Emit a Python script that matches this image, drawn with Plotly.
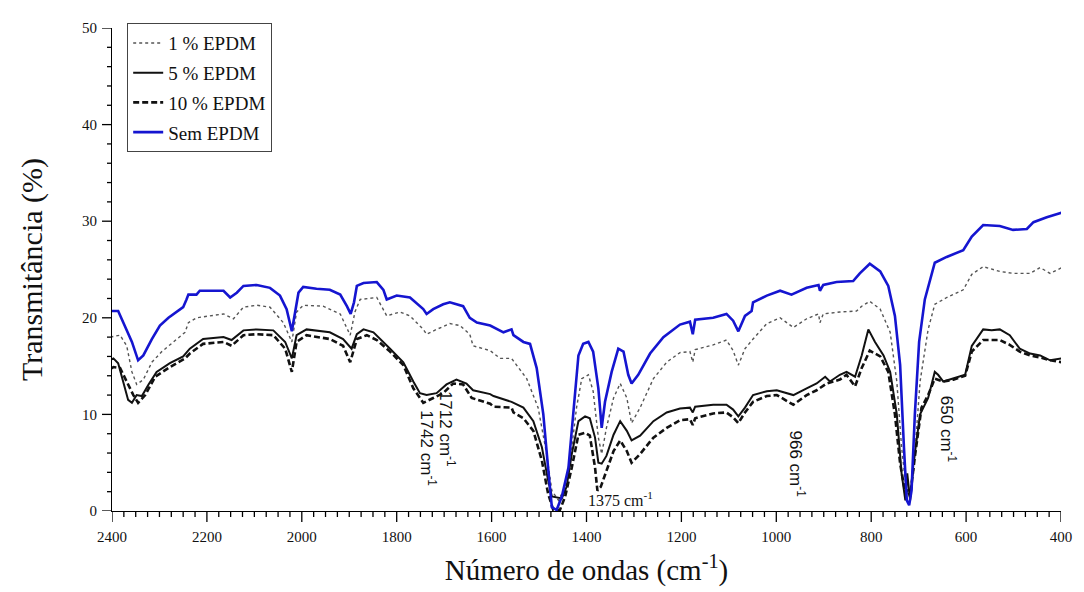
import plotly.graph_objects as go

# ---------------- data ----------------
x_sem = [2418, 2404, 2387, 2376, 2358, 2345, 2334, 2316, 2299, 2281, 2260, 2250, 2243, 2239, 2222, 2215,
         2165, 2151, 2137, 2123, 2095, 2067, 2046, 2032, 2021, 2014, 2007, 1997, 1969, 1941, 1919, 1905,
         1897, 1890, 1884, 1870, 1842, 1828, 1821, 1800, 1772, 1744, 1737, 1723, 1702, 1688, 1674, 1660,
         1646, 1631, 1603, 1575, 1558, 1554, 1533, 1519, 1505, 1491, 1481, 1473, 1463, 1452, 1438, 1428,
         1417, 1407, 1396, 1386, 1375, 1368, 1361, 1347, 1333, 1322, 1312, 1305, 1291, 1266, 1238, 1203,
         1182, 1176, 1171, 1133, 1105, 1091, 1080, 1066, 1052, 1049, 1020, 992, 968, 936, 911, 908, 901,
         873, 838, 824, 803, 781, 764, 750, 739, 731, 725, 720, 715, 708, 699, 687, 669, 666, 641, 606,
         588, 564, 529, 501, 472, 458, 430, 416, 398]
y_sem = [19.9, 20.7, 20.7, 19.5, 17.5, 15.6, 16.1, 17.8, 19.2, 20.0, 20.7, 21.1, 21.9, 22.4, 22.4, 22.8,
         22.8, 22.1, 22.6, 23.3, 23.4, 23.1, 22.3, 20.9, 18.6, 20.6, 22.6, 23.2, 23.0, 22.9, 22.4, 21.2,
         20.4, 21.6, 23.3, 23.6, 23.7, 22.9, 21.9, 22.3, 22.1, 20.9, 20.4, 20.9, 21.4, 21.6, 21.4, 21.2,
         20.0, 19.5, 19.2, 18.5, 18.8, 18.2, 17.5, 17.3, 14.8, 10.0, 4.5, 0.4, 0.1, 1.5, 4.5, 10.0,
         16.1, 17.3, 17.5, 16.5, 12.7, 8.6, 11.3, 14.4, 16.8, 16.5, 14.1, 13.2, 14.1, 16.3, 18.0, 19.3,
         19.6, 18.3, 19.8, 20.0, 20.4, 19.7, 18.6, 20.2, 20.7, 21.6, 22.3, 22.8, 22.4, 23.1, 23.4, 22.8, 23.4,
         23.7, 23.8, 24.6, 25.6, 24.8, 23.3, 20.2, 15.1, 6.6, 1.1, 0.6, 2.1, 10.0, 17.5, 21.9, 25.0, 25.7, 26.3, 27.0,
         28.4, 29.6, 29.5, 29.1, 29.2, 29.9, 30.4, 30.6, 30.9]

x_1 = [2418, 2404, 2383, 2369, 2358, 2348, 2334, 2316, 2295, 2271, 2246, 2239, 2222, 2165, 2144, 2123,
       2095, 2067, 2039, 2021, 2011, 1997, 1955, 1919, 1898, 1888, 1877, 1842, 1828, 1821, 1793, 1772,
       1744, 1737, 1716, 1688, 1667, 1646, 1639, 1603, 1582, 1558, 1526, 1502, 1484, 1473, 1459, 1445,
       1431, 1421, 1410, 1396, 1386, 1375, 1368, 1358, 1343, 1329, 1315, 1305, 1287, 1259, 1231, 1203,
       1182, 1176, 1171, 1133, 1105, 1091, 1080, 1066, 1049, 1020, 992, 964, 936, 911, 908, 901, 866,
       831, 820, 803, 781, 760, 746, 736, 725, 720, 711, 697, 680, 666, 641, 606, 588, 564, 529, 501,
       465, 444, 423, 398]
y_1 = [17.0, 18.0, 18.2, 17.1, 14.4, 13.1, 13.6, 15.4, 16.5, 17.5, 18.5, 19.5, 20.0, 20.4, 19.9, 21.1,
       21.3, 21.1, 19.5, 17.5, 20.6, 21.3, 21.2, 20.4, 18.2, 20.6, 21.9, 22.1, 20.9, 20.2, 20.6, 20.2,
       18.8, 18.3, 18.8, 19.4, 19.2, 18.3, 17.1, 16.6, 15.8, 15.8, 13.7, 10.7, 5.9, 2.1, 1.1, 2.5,
       6.6, 10.7, 13.7, 14.1, 12.4, 7.6, 5.9, 8.6, 11.7, 13.2, 11.7, 9.1, 10.7, 13.7, 15.4, 16.4,
       16.5, 15.4, 16.7, 17.2, 17.7, 16.6, 15.1, 16.8, 17.8, 19.4, 20.0, 19.0, 19.9, 20.4, 19.5, 20.4, 20.6,
       20.7, 21.2, 21.7, 20.9, 18.5, 13.4, 6.6, 1.8, 1.6, 3.9, 13.4, 18.8, 21.4, 22.1, 22.9, 24.5, 25.3, 24.8, 24.6,
       24.6, 25.2, 24.6, 25.2]

x_5 = [2418, 2397, 2387, 2376, 2366, 2358, 2348, 2337, 2323, 2306, 2278, 2250, 2236, 2208, 2165, 2148,
       2123, 2095, 2060, 2035, 2021, 2011, 1990, 1941, 1913, 1895, 1884, 1870, 1849, 1814, 1786, 1765,
       1751, 1737, 1716, 1695, 1674, 1653, 1639, 1603, 1596, 1558, 1533, 1512, 1494, 1481, 1473, 1452,
       1442, 1431, 1417, 1403, 1393, 1382, 1375, 1368, 1358, 1343, 1329, 1315, 1305, 1287, 1259, 1231,
       1203, 1182, 1176, 1171, 1133, 1105, 1091, 1080, 1066, 1049, 1020, 999, 964, 936, 915, 897, 887,
       866, 852, 834, 820, 806, 792, 774, 760, 746, 736, 728, 724, 718, 711, 697, 680, 666, 659, 648,
       627, 602, 588, 564, 546, 529, 508, 487, 465, 444, 423, 398]
y_5 = [15.3, 15.8, 15.3, 13.4, 11.5, 11.2, 12.0, 11.9, 13.1, 14.4, 15.3, 16.0, 16.8, 17.8, 18.0, 17.7,
       18.7, 18.8, 18.7, 17.5, 15.8, 18.2, 18.8, 18.5, 17.8, 16.8, 18.3, 18.8, 18.5, 16.8, 15.4, 13.4,
       12.2, 12.0, 12.2, 13.1, 13.6, 13.2, 12.5, 12.1, 11.9, 11.3, 10.7, 9.3, 6.6, 3.2, 1.5, 1.3,
       2.5, 5.9, 9.3, 9.8, 9.6, 7.6, 5.0, 4.9, 5.7, 7.9, 9.3, 8.3, 7.3, 7.8, 9.3, 10.2,
       10.6, 10.7, 10.2, 10.8, 11.0, 11.0, 10.5, 9.8, 10.7, 12.0, 12.4, 12.5, 12.0, 12.7, 13.2, 13.9, 13.4,
       14.1, 14.4, 13.9, 16.1, 18.8, 17.5, 16.1, 14.4, 10.0, 3.9, 1.1, 3.9, 1.1, 4.9, 10.0, 11.7, 14.4, 14.1, 13.4,
       13.7, 14.1, 17.1, 18.8, 18.7, 18.8, 18.2, 16.8, 16.3, 16.1, 15.6, 15.8]

x_10 = [2418, 2397, 2383, 2369, 2355, 2345, 2330, 2309, 2278, 2246, 2236, 2208, 2165, 2148, 2123, 2095,
        2060, 2035, 2021, 2011, 1990, 1941, 1913, 1898, 1884, 1863, 1842, 1814, 1786, 1765, 1744, 1723,
        1702, 1681, 1660, 1642, 1603, 1596, 1558, 1554, 1533, 1512, 1494, 1481, 1470, 1456, 1445, 1431,
        1417, 1403, 1393, 1382, 1377, 1370, 1358, 1343, 1329, 1315, 1305, 1287, 1259, 1231, 1203, 1182,
        1176, 1171, 1133, 1105, 1091, 1080, 1066, 1049, 1020, 999, 964, 936, 915, 894, 866, 852, 834,
        820, 803, 781, 764, 750, 739, 728, 723, 718, 708, 694, 680, 666, 648, 627, 602, 588, 564, 529,
        508, 487, 465, 444, 423, 398]
y_10 = [14.2, 14.9, 14.8, 13.4, 12.0, 11.2, 12.0, 13.9, 14.9, 15.8, 16.3, 17.3, 17.5, 17.1, 18.2, 18.3,
        18.2, 16.8, 14.4, 17.5, 18.2, 17.8, 17.1, 15.4, 17.8, 18.2, 17.7, 16.5, 15.1, 12.7, 11.2, 11.7,
        12.2, 13.2, 13.1, 11.7, 11.1, 10.8, 10.7, 10.2, 9.6, 8.3, 5.2, 1.8, 0.1, 0.1, 1.5, 4.5,
        7.9, 8.1, 7.8, 4.5, 2.1, 2.5, 4.2, 6.2, 7.3, 6.2, 5.0, 5.9, 7.6, 8.6, 9.4, 9.5,
        8.9, 9.6, 10.1, 10.2, 9.7, 9.1, 10.2, 11.3, 11.9, 12.0, 11.0, 12.0, 12.5, 13.2, 13.6, 14.1, 12.9,
        14.8, 16.6, 16.0, 14.4, 10.0, 4.9, 1.8, 2.2, 1.5, 5.6, 10.7, 12.0, 13.7, 13.4, 13.6, 14.0, 16.5, 17.7, 17.7,
        17.2, 16.5, 16.1, 15.9, 15.6, 15.4]

series_names = ["1 % EPDM", "5 % EPDM", "10 % EPDM", "Sem EPDM"]

peak_labels = ["1742 cm<sup>-1</sup>", "1712 cm<sup>-1</sup>", "966 cm<sup>-1</sup>", "650 cm<sup>-1</sup>"]
peak_x = [1734, 1694, 956, 638]
peak_y = [6.5, 8.5, 4.9, 8.5]
label_1375 = "1375 cm<sup>-1</sup>"
label_1375_x = 1329
label_1375_y = 1.2

x_major_ticks = [2400, 2200, 2000, 1800, 1600, 1400, 1200, 1000, 800, 600, 400]
y_major_ticks = [0, 10, 20, 30, 40, 50]
x_minor_step = 25
y_minor_step = 2

# ---------------- figure ----------------
SERIF = "Liberation Serif, Times New Roman, serif"
SANS = "Liberation Sans, Arial, sans-serif"
AX = "black"

fig = go.Figure()
styles = [
    dict(color="#555555", width=1.4, dash="dot"),
    dict(color="#111111", width=2.0, dash="solid"),
    dict(color="#111111", width=2.6, dash="6px,3px"),
    dict(color="#1515d0", width=2.6, dash="solid"),
]
data = [(x_1, y_1), (x_5, y_5), (x_10, y_10), (x_sem, y_sem)]
for i, ((xs, ys), nm, st) in enumerate(zip(data, series_names, styles)):
    fig.add_trace(go.Scatter(x=xs, y=ys, mode="lines", name=nm, line=st,
                             legendgroup=f"g{i}"))

for t, xx, yy in zip(peak_labels, peak_x, peak_y):
    fig.add_annotation(x=xx, y=yy, text=t, textangle=90, showarrow=False,
                       font=dict(family=SANS, size=17, color="#111111"))
fig.add_annotation(x=label_1375_x, y=label_1375_y, text=label_1375, showarrow=False,
                   font=dict(family=SERIF, size=16, color="#111111"))

# outside tick marks, placed at the axis values through the axes' own scales
x_lo_t, x_hi_t = min(x_major_ticks), max(x_major_ticks)
for v in range(x_lo_t, x_hi_t + 1, x_minor_step):
    ln = 11 if v in x_major_ticks else 6
    fig.add_shape(type="line", xref="x", yref="paper", ysizemode="pixel", yanchor=0,
                  x0=v, x1=v, y0=0, y1=-ln, line=dict(color=AX, width=1.3))
y_lo_t, y_hi_t = min(y_major_ticks), max(y_major_ticks)
for v in range(y_lo_t, y_hi_t + 1, y_minor_step):
    ln = 10 if v in y_major_ticks else 5
    fig.add_shape(type="line", xref="paper", yref="y", xsizemode="pixel", xanchor=0,
                  x0=0, x1=-ln, y0=v, y1=v, line=dict(color=AX, width=1.3))

# the page body has an 8px margin, so the figure is shifted by 8px
fig.update_layout(
    width=1076, height=584,
    margin=dict(l=104, r=22, t=14, b=81),
    plot_bgcolor="white",
    showlegend=True,
    legend=dict(x=0.016, y=1.01, xanchor="left", yanchor="top",
                bordercolor="#444444", borderwidth=1, bgcolor="white",
                font=dict(family=SERIF, size=19, color="#111111"),
                tracegroupgap=2),
    xaxis=dict(range=[2400, 400], tickvals=x_major_ticks, ticktext=[str(v) for v in x_major_ticks],
               showgrid=False, zeroline=False, showline=True, linecolor=AX, linewidth=1.2,
               ticks="", ticklabelstandoff=12,
               tickfont=dict(family=SERIF, size=15, color="#111111"),
               title=dict(text="Número de ondas (cm<sup>-1</sup>)", standoff=15,
                          font=dict(family=SERIF, size=29, color="#111111"))),
    yaxis=dict(range=[0, 50], tickvals=y_major_ticks,
               showgrid=False, zeroline=False, showline=True, linecolor=AX, linewidth=1.2,
               ticks="", ticklabelstandoff=11,
               tickfont=dict(family=SERIF, size=15, color="#111111"),
               title=dict(text="Transmitância (%)", standoff=30,
                          font=dict(family=SERIF, size=30, color="#111111"))),
)

fig.write_html("out.html")
